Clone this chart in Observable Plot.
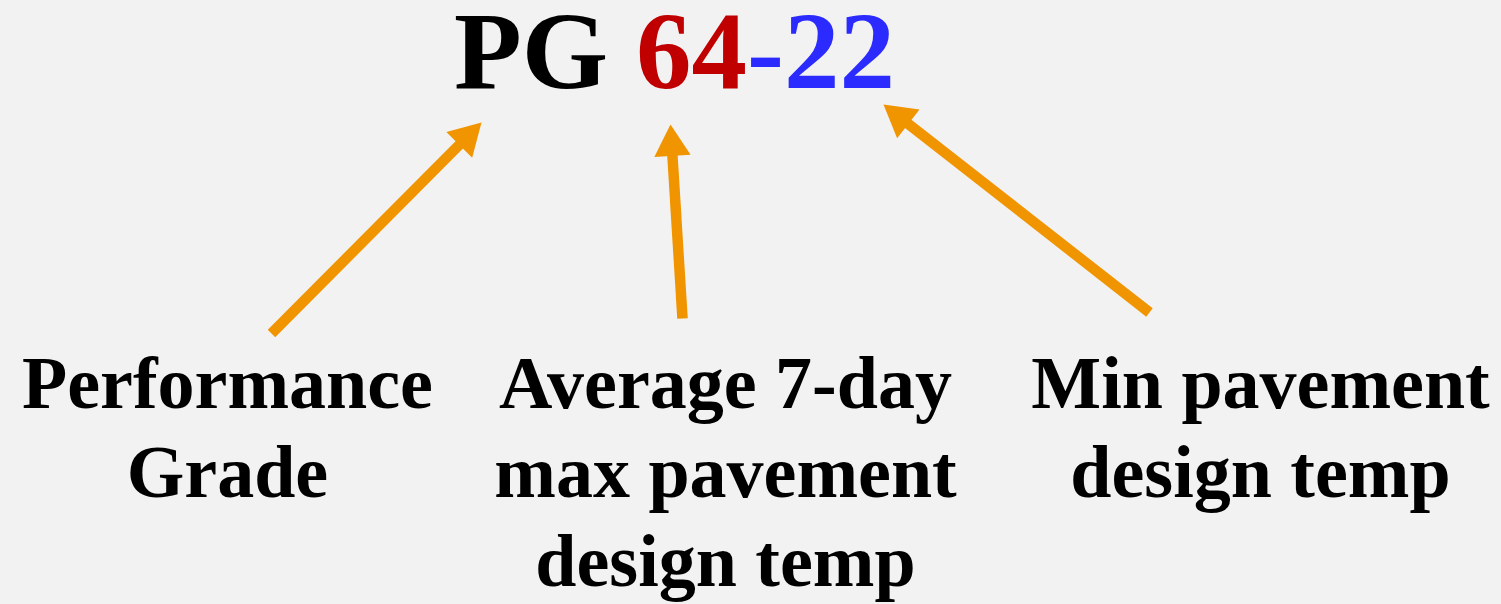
<!DOCTYPE html>
<html>
<head>
<meta charset="utf-8">
<script src="https://cdn.jsdelivr.net/npm/d3@7"></script>
<script src="https://cdn.jsdelivr.net/npm/@observablehq/plot@0.6"></script>
<style>
  html, body { margin: 0; padding: 0; background: #f2f2f2; }
  #chart svg { display: block; }
</style>
</head>
<body>
<div id="chart"></div>
<script>
// Title pieces: text and colour
const titleParts = ["PG ", "64", "-22"];
const titleColors = ["#000000", "#c00000", "#2b2bff"];
const titleAnchor = [{x: 674, y: 87}];

// Explanatory labels (multi-line), anchored at the baseline of their last line
const labelTexts = [
  "Performance\nGrade",
  "Average 7-day\nmax pavement\ndesign temp",
  "Min pavement\ndesign temp"
];
const labelX = [227, 725, 1260];
const labelY = [496, 585, 496];

// Arrows: tail (x1,y1) -> tip (x2,y2)
const arrowX1 = [271, 682, 1149];
const arrowY1 = [333, 318, 312];
const arrowX2 = [481, 670, 883];
const arrowY2 = [122, 124, 104];

const W = 1501, H = 604;
const arrowColor = "#f09400";
const headOffset = 21; // tip to triangle centroid

const labels = labelTexts.map((t, i) => ({text: t, x: labelX[i], y: labelY[i]}));
const arrows = arrowX1.map((x1, i) => {
  const x2 = arrowX2[i], y2 = arrowY2[i], y1 = arrowY1[i];
  const dx = x2 - x1, dy = y2 - y1, L = Math.hypot(dx, dy);
  const ux = dx / L, uy = dy / L;
  return {
    x1, y1,
    sx: x2 - ux * 22, sy: y2 - uy * 22,
    hx: x2 - ux * headOffset, hy: y2 - uy * headOffset,
    angle: Math.atan2(dx, -dy) * 180 / Math.PI
  };
});

const plot = Plot.plot({
  width: W,
  height: H,
  margin: 0,
  style: {background: "#f2f2f2"},
  x: {domain: [0, W], range: [0, W], axis: null},
  y: {domain: [0, H], range: [0, H], axis: null},
  marks: [
    Plot.link(arrows, {x1: "x1", y1: "y1", x2: "sx", y2: "sy", stroke: arrowColor, strokeWidth: 10.5, strokeLinecap: "butt"}),
    Plot.dot(arrows, {x: "hx", y: "hy", symbol: "triangle", r: 13.5, rotate: "angle", fill: arrowColor, stroke: "none"}),
    Plot.text(titleAnchor, {x: "x", y: "y", text: () => titleParts.join(""), textAnchor: "middle", lineAnchor: "bottom",
      fontFamily: "Liberation Serif, Times New Roman, serif", fontWeight: "bold", fontSize: 111, fill: "#000"}),
    Plot.text(labels, {x: "x", y: "y", text: "text", textAnchor: "middle", lineAnchor: "bottom", lineHeight: 1.2,
      fontFamily: "Liberation Serif, Times New Roman, serif", fontWeight: "bold", fontSize: 74, fill: "#000"})
  ]
});

// Colour the parts of the title with tspans
d3.select(plot).selectAll("text").each(function() {
  if (this.textContent === titleParts.join("")) {
    const t = d3.select(this);
    t.text(null);
    titleParts.forEach((p, i) => t.append("tspan").attr("fill", titleColors[i]).attr("xml:space", "preserve").style("white-space", "pre").text(p));
  }
});

document.getElementById("chart").appendChild(plot);
</script>
</body>
</html>
